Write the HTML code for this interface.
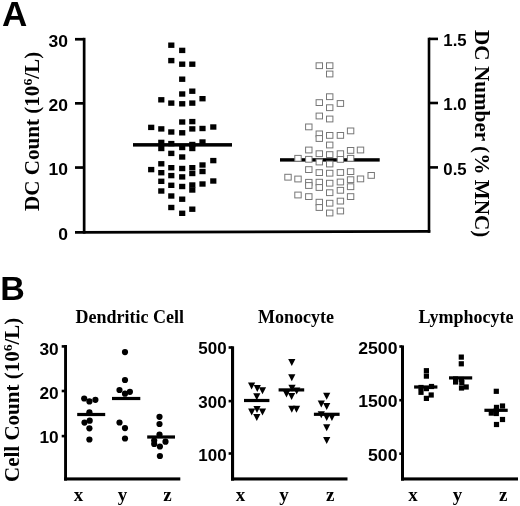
<!DOCTYPE html>
<html><head><meta charset="utf-8"><style>
html,body{margin:0;padding:0;background:#fff;}
svg{display:block;filter:blur(0.3px);}
.t{font-family:"Liberation Sans",sans-serif;font-weight:bold;fill:#000;}
.s{font-family:"Liberation Serif",serif;font-weight:bold;fill:#000;}
.o{fill:#fff;stroke:#777;stroke-width:1;}
</style></head><body>
<svg width="520" height="506" viewBox="0 0 520 506">
<rect width="520" height="506" fill="#fff"/>
<g fill="#000">

<!-- Panel A axes -->
<rect x="82.8" y="37.8" width="2.7" height="195.8"/>
<rect x="75" y="37.9" width="9" height="2.7"/>
<rect x="75" y="102" width="9" height="2.7"/>
<rect x="75" y="166.2" width="9" height="2.7"/>
<path d="M75 231.1L430.3 230.1V232.7L75 233.7Z"/>
<rect x="427.7" y="37.7" width="2.6" height="195"/>
<rect x="429" y="37.6" width="9" height="2.6"/>
<rect x="429" y="101.7" width="9" height="2.6"/>
<rect x="429" y="166.1" width="9" height="2.6"/>
<!-- B1 axes -->
<rect x="64.1" y="345" width="2.9" height="135.6"/>
<rect x="61.7" y="345.1" width="4" height="2.6"/>
<rect x="61.7" y="389.7" width="4" height="2.6"/>
<rect x="61.7" y="434.8" width="4" height="2.6"/>
<rect x="64.1" y="477.4" width="116.2" height="3.1"/>
<!-- B2 axes -->
<rect x="231" y="346.3" width="3.1" height="134.3"/>
<rect x="228.6" y="346.2" width="4" height="2.6"/>
<rect x="228.6" y="399.8" width="4" height="2.6"/>
<rect x="228.6" y="452.2" width="4" height="2.6"/>
<rect x="231" y="477.4" width="116.5" height="3.1"/>
<!-- B3 axes -->
<rect x="401" y="345.4" width="3" height="135.2"/>
<rect x="399.3" y="345.2" width="3" height="2.6"/>
<rect x="399.3" y="398.9" width="3" height="2.6"/>
<rect x="399.3" y="452.4" width="3" height="2.6"/>
<rect x="401" y="477.4" width="117" height="3.1"/>

<rect x="148.1" y="124.7" width="6.2" height="5.4"/>
<rect x="148.1" y="166.9" width="6.2" height="5.4"/>
<rect x="158.2" y="97.1" width="6.2" height="5.4"/>
<rect x="158.2" y="126.2" width="6.2" height="5.4"/>
<rect x="158.2" y="139.7" width="6.2" height="5.4"/>
<rect x="158.2" y="145.8" width="6.2" height="5.4"/>
<rect x="158.2" y="161.1" width="6.2" height="5.4"/>
<rect x="158.2" y="170" width="6.2" height="5.4"/>
<rect x="158.2" y="178.6" width="6.2" height="5.4"/>
<rect x="158.2" y="188.3" width="6.2" height="5.4"/>
<rect x="168.2" y="42.5" width="6.2" height="5.4"/>
<rect x="168.2" y="57.9" width="6.2" height="5.4"/>
<rect x="168.2" y="100.4" width="6.2" height="5.4"/>
<rect x="168.2" y="129.3" width="6.2" height="5.4"/>
<rect x="168.2" y="140.9" width="6.2" height="5.4"/>
<rect x="168.2" y="150.7" width="6.2" height="5.4"/>
<rect x="168.2" y="165" width="6.2" height="5.4"/>
<rect x="168.2" y="172.9" width="6.2" height="5.4"/>
<rect x="168.2" y="182.6" width="6.2" height="5.4"/>
<rect x="168.2" y="193.3" width="6.2" height="5.4"/>
<rect x="168.2" y="204.8" width="6.2" height="5.4"/>
<rect x="179.1" y="47.7" width="6.2" height="5.4"/>
<rect x="179.1" y="61.5" width="6.2" height="5.4"/>
<rect x="179.1" y="76.5" width="6.2" height="5.4"/>
<rect x="179.1" y="91.3" width="6.2" height="5.4"/>
<rect x="179.1" y="101.1" width="6.2" height="5.4"/>
<rect x="179.1" y="119.3" width="6.2" height="5.4"/>
<rect x="179.1" y="130.1" width="6.2" height="5.4"/>
<rect x="179.1" y="144.8" width="6.2" height="5.4"/>
<rect x="179.1" y="154.3" width="6.2" height="5.4"/>
<rect x="179.1" y="165.8" width="6.2" height="5.4"/>
<rect x="179.1" y="174.2" width="6.2" height="5.4"/>
<rect x="179.1" y="183.8" width="6.2" height="5.4"/>
<rect x="179.1" y="196.5" width="6.2" height="5.4"/>
<rect x="179.1" y="210.6" width="6.2" height="5.4"/>
<rect x="189.2" y="61.5" width="6.2" height="5.4"/>
<rect x="189.2" y="88.5" width="6.2" height="5.4"/>
<rect x="189.2" y="100.4" width="6.2" height="5.4"/>
<rect x="189.2" y="118.9" width="6.2" height="5.4"/>
<rect x="189.2" y="126.2" width="6.2" height="5.4"/>
<rect x="189.2" y="141.8" width="6.2" height="5.4"/>
<rect x="189.2" y="145.8" width="6.2" height="5.4"/>
<rect x="189.2" y="165" width="6.2" height="5.4"/>
<rect x="189.2" y="170.8" width="6.2" height="5.4"/>
<rect x="189.2" y="182.3" width="6.2" height="5.4"/>
<rect x="189.2" y="187.3" width="6.2" height="5.4"/>
<rect x="189.2" y="206.5" width="6.2" height="5.4"/>
<rect x="199.4" y="96" width="6.2" height="5.4"/>
<rect x="199.4" y="125.8" width="6.2" height="5.4"/>
<rect x="199.4" y="139.3" width="6.2" height="5.4"/>
<rect x="199.4" y="162.3" width="6.2" height="5.4"/>
<rect x="199.4" y="168.8" width="6.2" height="5.4"/>
<rect x="199.4" y="181.3" width="6.2" height="5.4"/>
<rect x="210.2" y="124.3" width="6.2" height="5.4"/>
<rect x="210.2" y="157.9" width="6.2" height="5.4"/>
<rect x="210.2" y="178.3" width="6.2" height="5.4"/>
<rect x="280" y="158.2" width="99.7" height="3.4"/>
<rect class="o" x="284.8" y="174.3" width="6.4" height="5.8"/>
<rect class="o" x="294.8" y="155.4" width="6.4" height="5.8"/>
<rect class="o" x="294.8" y="176.1" width="6.4" height="5.8"/>
<rect class="o" x="294.8" y="192.1" width="6.4" height="5.8"/>
<rect class="o" x="305.6" y="124" width="6.4" height="5.8"/>
<rect class="o" x="305.6" y="147.1" width="6.4" height="5.8"/>
<rect class="o" x="305.6" y="156.4" width="6.4" height="5.8"/>
<rect class="o" x="305.6" y="166.7" width="6.4" height="5.8"/>
<rect class="o" x="305.6" y="179.4" width="6.4" height="5.8"/>
<rect class="o" x="305.6" y="182.6" width="6.4" height="5.8"/>
<rect class="o" x="305.6" y="193.7" width="6.4" height="5.8"/>
<rect class="o" x="316.1" y="62.8" width="6.4" height="5.8"/>
<rect class="o" x="316.1" y="99.7" width="6.4" height="5.8"/>
<rect class="o" x="316.1" y="113.1" width="6.4" height="5.8"/>
<rect class="o" x="316.1" y="131" width="6.4" height="5.8"/>
<rect class="o" x="316.1" y="135.6" width="6.4" height="5.8"/>
<rect class="o" x="316.1" y="150.8" width="6.4" height="5.8"/>
<rect class="o" x="316.1" y="159.1" width="6.4" height="5.8"/>
<rect class="o" x="316.1" y="169.7" width="6.4" height="5.8"/>
<rect class="o" x="316.1" y="179.3" width="6.4" height="5.8"/>
<rect class="o" x="316.1" y="184.6" width="6.4" height="5.8"/>
<rect class="o" x="316.1" y="199.3" width="6.4" height="5.8"/>
<rect class="o" x="316.1" y="204.6" width="6.4" height="5.8"/>
<rect class="o" x="326.5" y="62.8" width="6.4" height="5.8"/>
<rect class="o" x="326.5" y="71.1" width="6.4" height="5.8"/>
<rect class="o" x="326.5" y="93.8" width="6.4" height="5.8"/>
<rect class="o" x="326.5" y="104.8" width="6.4" height="5.8"/>
<rect class="o" x="326.5" y="116.1" width="6.4" height="5.8"/>
<rect class="o" x="326.5" y="132.5" width="6.4" height="5.8"/>
<rect class="o" x="326.5" y="142.1" width="6.4" height="5.8"/>
<rect class="o" x="326.5" y="151.7" width="6.4" height="5.8"/>
<rect class="o" x="326.5" y="161.1" width="6.4" height="5.8"/>
<rect class="o" x="326.5" y="170.3" width="6.4" height="5.8"/>
<rect class="o" x="326.5" y="180.3" width="6.4" height="5.8"/>
<rect class="o" x="326.5" y="189.8" width="6.4" height="5.8"/>
<rect class="o" x="326.5" y="200.3" width="6.4" height="5.8"/>
<rect class="o" x="326.5" y="210.1" width="6.4" height="5.8"/>
<rect class="o" x="337.2" y="100.6" width="6.4" height="5.8"/>
<rect class="o" x="337.2" y="132.5" width="6.4" height="5.8"/>
<rect class="o" x="337.2" y="150.8" width="6.4" height="5.8"/>
<rect class="o" x="337.2" y="156.5" width="6.4" height="5.8"/>
<rect class="o" x="337.2" y="169.6" width="6.4" height="5.8"/>
<rect class="o" x="337.2" y="179.1" width="6.4" height="5.8"/>
<rect class="o" x="337.2" y="187.4" width="6.4" height="5.8"/>
<rect class="o" x="337.2" y="198.2" width="6.4" height="5.8"/>
<rect class="o" x="337.2" y="208.1" width="6.4" height="5.8"/>
<rect class="o" x="347.4" y="128" width="6.4" height="5.8"/>
<rect class="o" x="347.4" y="147.5" width="6.4" height="5.8"/>
<rect class="o" x="347.4" y="155.4" width="6.4" height="5.8"/>
<rect class="o" x="347.4" y="168.7" width="6.4" height="5.8"/>
<rect class="o" x="347.4" y="176.8" width="6.4" height="5.8"/>
<rect class="o" x="347.4" y="183.8" width="6.4" height="5.8"/>
<rect class="o" x="347.4" y="193.7" width="6.4" height="5.8"/>
<rect class="o" x="357.3" y="147.1" width="6.4" height="5.8"/>
<rect class="o" x="357.3" y="176" width="6.4" height="5.8"/>
<rect class="o" x="368" y="172.5" width="6.4" height="5.8"/>
<rect x="133" y="143.1" width="99" height="3.5"/>
<circle cx="84.2" cy="398.5" r="3.1"/>
<circle cx="89.4" cy="401.4" r="3.1"/>
<circle cx="95.4" cy="399.8" r="3.1"/>
<circle cx="89.4" cy="412.3" r="3.1"/>
<circle cx="89.7" cy="420.7" r="3.1"/>
<circle cx="84.5" cy="422.6" r="3.1"/>
<circle cx="89.4" cy="428.3" r="3.1"/>
<circle cx="89.4" cy="439.5" r="3.1"/>
<circle cx="125" cy="352.1" r="3.1"/>
<circle cx="125" cy="380" r="3.1"/>
<circle cx="119.5" cy="390" r="3.1"/>
<circle cx="129.9" cy="391.8" r="3.1"/>
<circle cx="125" cy="393.7" r="3.1"/>
<circle cx="119.5" cy="422.5" r="3.1"/>
<circle cx="125" cy="428.1" r="3.1"/>
<circle cx="125" cy="438.5" r="3.1"/>
<circle cx="159.5" cy="416.8" r="3.1"/>
<circle cx="159.5" cy="424" r="3.1"/>
<circle cx="159.5" cy="434.6" r="3.1"/>
<circle cx="154.2" cy="440.5" r="3.1"/>
<circle cx="154.2" cy="444" r="3.1"/>
<circle cx="165.5" cy="441.7" r="3.1"/>
<circle cx="159.9" cy="446.5" r="3.1"/>
<circle cx="159.9" cy="456" r="3.1"/>
<rect x="77.2" y="412.9" width="28" height="3.2"/>
<rect x="112" y="396.9" width="28.3" height="3.2"/>
<rect x="147.2" y="435.4" width="27.8" height="3.2"/>
<rect x="244" y="398.9" width="25.4" height="3.2"/>
<rect x="278.6" y="388.3" width="25.6" height="3.2"/>
<rect x="313.9" y="412.7" width="25.7" height="3.2"/>
<rect x="414.1" y="385.4" width="23.3" height="3.2"/>
<rect x="449" y="376.3" width="23.2" height="3.2"/>
<rect x="484.4" y="408.7" width="23.3" height="3.2"/>
<path d="M248 382.4H255.2L251.6 389.4Z"/>
<path d="M253.7 384.9H260.9L257.3 391.9Z"/>
<path d="M258.9 387.3H266.1L262.5 394.3Z"/>
<path d="M253.2 393.3H260.4L256.8 400.3Z"/>
<path d="M253.4 406.1H260.6L257 413.1Z"/>
<path d="M248.1 408.6H255.3L251.7 415.6Z"/>
<path d="M258.9 408.6H266.1L262.5 415.6Z"/>
<path d="M253.2 414H260.4L256.8 421Z"/>
<path d="M288.2 358.9H295.4L291.8 365.9Z"/>
<path d="M288.2 374.3H295.4L291.8 381.3Z"/>
<path d="M288.4 384.8H295.6L292 391.8Z"/>
<path d="M282.9 390.5H290.1L286.5 397.5Z"/>
<path d="M293.1 387.5H300.3L296.7 394.5Z"/>
<path d="M288 393H295.2L291.6 400Z"/>
<path d="M288.2 405.8H295.4L291.8 412.8Z"/>
<path d="M292.9 405.8H300.1L296.5 412.8Z"/>
<path d="M323.1 392.7H330.3L326.7 399.7Z"/>
<path d="M317.7 400.4H324.9L321.3 407.4Z"/>
<path d="M323.1 403H330.3L326.7 410Z"/>
<path d="M317.7 411.3H324.9L321.3 418.3Z"/>
<path d="M323.1 414H330.3L326.7 421Z"/>
<path d="M328.3 414H335.5L331.9 421Z"/>
<path d="M323.1 424.2H330.3L326.7 431.2Z"/>
<path d="M323.1 437H330.3L326.7 444Z"/>
<rect x="423.8" y="368.1" width="5.2" height="5.2"/>
<rect x="423.8" y="373.5" width="5.2" height="5.2"/>
<rect x="418.4" y="389.7" width="5.2" height="5.2"/>
<rect x="428.6" y="392.4" width="5.2" height="5.2"/>
<rect x="423.8" y="395.8" width="5.2" height="5.2"/>
<rect x="423.8" y="386" width="5.2" height="5.2"/>
<rect x="418.4" y="384.9" width="5.2" height="5.2"/>
<rect x="428.9" y="383.9" width="5.2" height="5.2"/>
<rect x="458.7" y="354.5" width="5.2" height="5.2"/>
<rect x="458.7" y="361.2" width="5.2" height="5.2"/>
<rect x="453" y="379.4" width="5.2" height="5.2"/>
<rect x="459.2" y="380" width="5.2" height="5.2"/>
<rect x="463.6" y="384.4" width="5.2" height="5.2"/>
<rect x="458.9" y="385.4" width="5.2" height="5.2"/>
<rect x="453" y="376.4" width="5.2" height="5.2"/>
<rect x="458.9" y="376.9" width="5.2" height="5.2"/>
<rect x="493.7" y="388.7" width="5.2" height="5.2"/>
<rect x="499.9" y="403.4" width="5.2" height="5.2"/>
<rect x="493.9" y="404.8" width="5.2" height="5.2"/>
<rect x="488.7" y="410.5" width="5.2" height="5.2"/>
<rect x="493.7" y="410.9" width="5.2" height="5.2"/>
<rect x="499.9" y="416.9" width="5.2" height="5.2"/>
<rect x="493.9" y="421.9" width="5.2" height="5.2"/>
<rect x="493.7" y="407.9" width="5.2" height="5.2"/>
</g>
<text class="t" x="0" y="0" font-size="17" text-anchor="end" transform="translate(67.9,46.94) scale(1.03,1)">30</text>
<text class="t" x="0" y="0" font-size="17" text-anchor="end" transform="translate(67.9,111.09) scale(1.03,1)">20</text>
<text class="t" x="0" y="0" font-size="17" text-anchor="end" transform="translate(67.9,175.49) scale(1.03,1)">10</text>
<text class="t" x="0" y="0" font-size="17" text-anchor="end" transform="translate(67.9,239.89) scale(1.03,1)">0</text>
<text class="t" x="0" y="0" font-size="16" transform="translate(443.3,46.23) scale(1.05,1)">1.5</text>
<text class="t" x="0" y="0" font-size="16" transform="translate(443.3,110.48) scale(1.05,1)">1.0</text>
<text class="t" x="0" y="0" font-size="16" transform="translate(443.3,175.03) scale(1.05,1)">0.5</text>
<text class="t" x="0" y="0" font-size="16.5" text-anchor="end" transform="translate(58.7,354.61) scale(1.05,1)">30</text>
<text class="t" x="0" y="0" font-size="16.5" text-anchor="end" transform="translate(58.7,399.11) scale(1.05,1)">20</text>
<text class="t" x="0" y="0" font-size="16.5" text-anchor="end" transform="translate(58.7,442.81) scale(1.05,1)">10</text>
<text class="t" x="0" y="0" font-size="16.5" text-anchor="end" transform="translate(226.7,354.21) scale(1.03,1)">500</text>
<text class="t" x="0" y="0" font-size="16.5" text-anchor="end" transform="translate(226.7,407.66) scale(1.03,1)">300</text>
<text class="t" x="0" y="0" font-size="16.5" text-anchor="end" transform="translate(226.7,460.61) scale(1.03,1)">100</text>
<text class="t" x="0" y="0" font-size="16.5" text-anchor="end" transform="translate(397.5,354.16) scale(1.07,1)">2500</text>
<text class="t" x="0" y="0" font-size="16.5" text-anchor="end" transform="translate(397.5,407.11) scale(1.07,1)">1500</text>
<text class="t" x="0" y="0" font-size="16.5" text-anchor="end" transform="translate(397.5,460.91) scale(1.07,1)">500</text>

<text class="s" font-size="34" x="0" y="0" style="font-family:'Liberation Sans',sans-serif" transform="translate(2.1,25.7) scale(1.03,1.03)">A</text>
<text class="s" font-size="34" x="0" y="0" style="font-family:'Liberation Sans',sans-serif" transform="translate(0.3,300.2)">B</text>
<text class="s" font-size="18" x="75.5" y="323">Dendritic Cell</text>
<text class="s" font-size="18" x="258" y="323">Monocyte</text>
<text class="s" font-size="18" x="418.5" y="323">Lymphocyte</text>
<text class="s" font-size="20" transform="translate(38.8,211) rotate(-90) scale(1.055,1)">DC Count (10<tspan font-size="13" dy="-7">6</tspan><tspan dy="7">/L)</tspan></text>
<text class="s" font-size="20" transform="translate(475,30) rotate(90) scale(1.06,1)">DC Number (% MNC)</text>
<text class="s" font-size="20" transform="translate(19,482) rotate(-90) scale(1.05,1)">Cell Count (10<tspan font-size="13" dy="-7">6</tspan><tspan dy="7">/L)</tspan></text>
<text class="s" font-size="19" x="78.4" y="501" text-anchor="middle">x</text>
<text class="s" font-size="19" x="122.4" y="501" text-anchor="middle">y</text>
<text class="s" font-size="19" x="167.4" y="501" text-anchor="middle">z</text>
<text class="s" font-size="19" x="240.4" y="501" text-anchor="middle">x</text>
<text class="s" font-size="19" x="284" y="501" text-anchor="middle">y</text>
<text class="s" font-size="19" x="330.3" y="501" text-anchor="middle">z</text>
<text class="s" font-size="19" x="412.9" y="501" text-anchor="middle">x</text>
<text class="s" font-size="19" x="457.5" y="501" text-anchor="middle">y</text>
<text class="s" font-size="19" x="503.1" y="501" text-anchor="middle">z</text>
</svg>
</body></html>
